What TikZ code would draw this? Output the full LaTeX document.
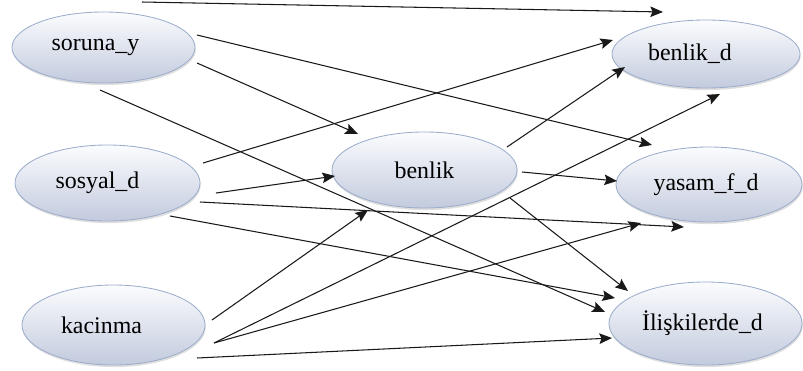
\documentclass[tikz,border=0pt]{standalone}
\usepackage{fontspec}
\setmainfont{Liberation Serif}
\usetikzlibrary{arrows.meta,shapes.geometric,shadows}
\definecolor{elltop}{HTML}{FBFCFE}
\definecolor{ellbot}{HTML}{C2CADD}
\definecolor{ellline}{HTML}{9CADCC}
\begin{document}
\begin{tikzpicture}[x=0.025cm,y=-0.025cm,
  ell/.style={ellipse, draw=ellline, line width=0.6pt, top color=elltop, bottom color=ellbot,
    inner sep=0pt, font=\fontsize{17}{19}\selectfont,
    drop shadow={shadow xshift=0.5pt, shadow yshift=-1.5pt, opacity=0.25}},
  arr/.style={-{Stealth[length=9pt,width=7.5pt,inset=1.5pt]}, line width=0.75pt, draw=black!90}]
\useasboundingbox (0,0) rectangle (803,370);
\node[ell, minimum width=4.575cm, minimum height=1.775cm] (S) at (103.5,47.5) {soruna\_y\hspace*{0.4cm}};
\node[ell, minimum width=4.625cm, minimum height=1.9cm] (D) at (107.5,183) {sosyal\_d\hspace*{0.5cm}};
\node[ell, minimum width=4.575cm, minimum height=2.0cm] (K) at (113.5,325) {kacinma\hspace*{0.6cm}};
\node[ell, minimum width=4.625cm, minimum height=1.9cm] (B) at (424.5,170) {benlik};
\node[ell, minimum width=4.7cm, minimum height=1.7cm] (BD) at (706,54) {benlik\_d\hspace*{0.8cm}};
\node[ell, minimum width=4.65cm, minimum height=1.875cm] (Y) at (709,184.5) {yasam\_f\_d\hspace*{0.15cm}};
\node[ell, minimum width=4.825cm, minimum height=2.075cm] (I) at (705.5,323.5) {İlişkilerde\_d\hspace*{0.15cm}};
\coordinate (t1) at (142,2);
\draw[arr] (t1) -- ([shift={(-43,-42)}]BD.center);
\draw[arr] ([shift={(93.5,-12.5)}]S.center) -- ([shift={(-57,-39.5)}]Y.center);
\draw[arr] ([shift={(93.5,15.5)}]S.center) -- ([shift={(-66.5,-36)}]B.center);
\draw[arr] ([shift={(-3.5,42.5)}]S.center) -- ([shift={(-100.5,-11.5)}]I.center);
\draw[arr] ([shift={(95.5,-20)}]D.center) -- ([shift={(-93,-14)}]BD.center);
\draw[arr] ([shift={(108.5,10)}]D.center) -- ([shift={(-89.5,6)}]B.center);
\draw[arr] ([shift={(92.5,19)}]D.center) -- ([shift={(-25,42.5)}]Y.center);
\draw[arr] ([shift={(62.5,33)}]D.center) -- ([shift={(-90.5,-25.5)}]I.center);
\draw[arr] ([shift={(82.5,-23)}]B.center) -- ([shift={(-81,13)}]BD.center);
\draw[arr] ([shift={(97.5,2)}]B.center) -- ([shift={(-92,-3.5)}]Y.center);
\draw[arr] ([shift={(85.5,28)}]B.center) -- ([shift={(-77.5,-32.5)}]I.center);
\draw[arr] ([shift={(98.5,-5)}]K.center) -- ([shift={(-56.5,40)}]B.center);
\draw[arr] ([shift={(100.5,18)}]K.center) -- ([shift={(14,40)}]BD.center);
\draw[arr] ([shift={(100.5,18)}]K.center) -- ([shift={(-68,38.5)}]Y.center);
\draw[arr] ([shift={(83.5,33)}]K.center) -- ([shift={(-93.5,14.5)}]I.center);
\end{tikzpicture}
\end{document}
